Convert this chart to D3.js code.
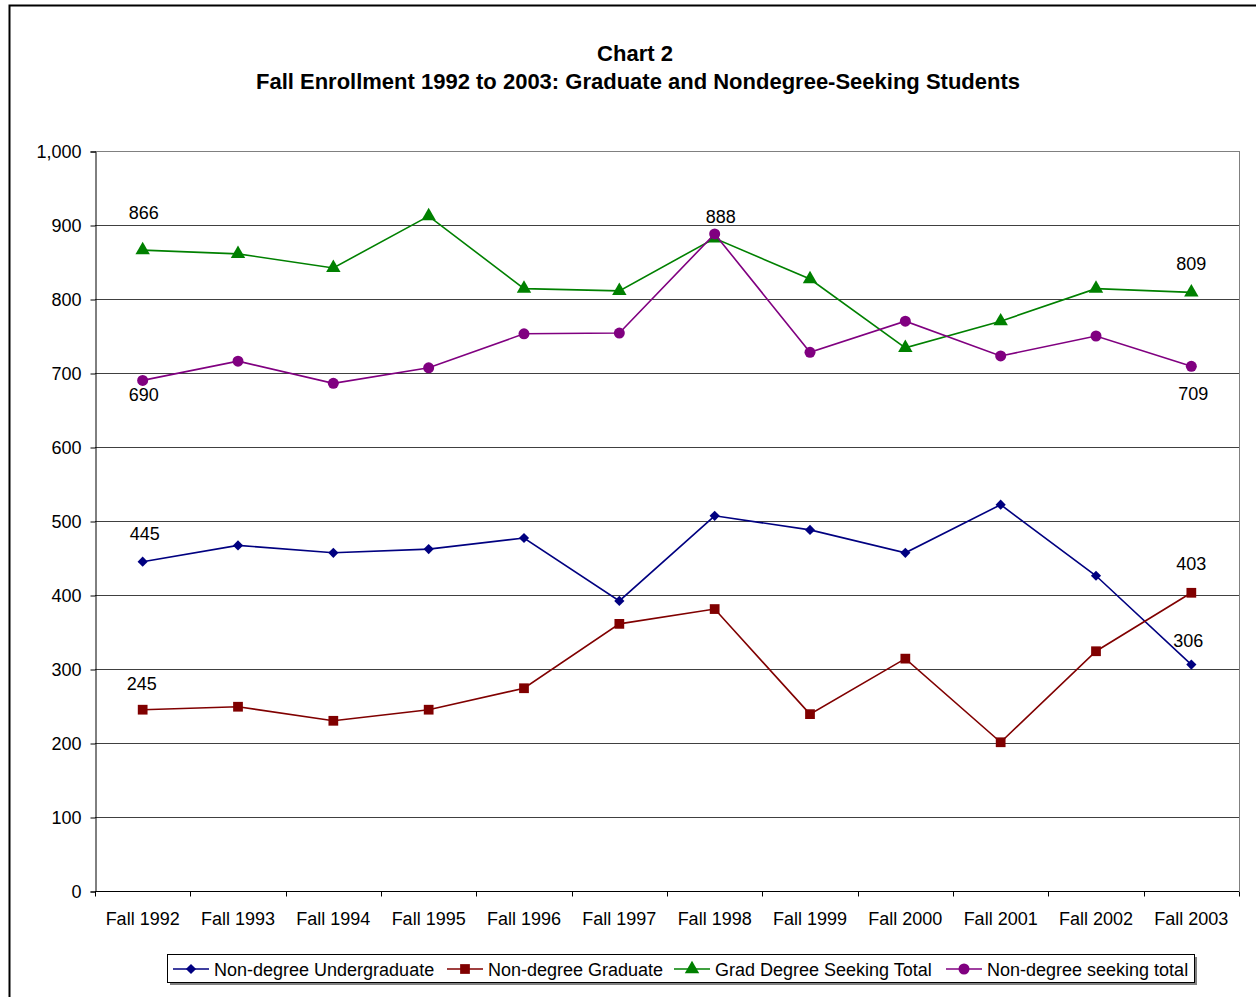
<!DOCTYPE html>
<html>
<head>
<meta charset="utf-8">
<script src="https://cdn.jsdelivr.net/npm/d3@7"></script>
<style>
  body { margin: 0; background: #fff; }
  text { font-family: "Liberation Sans", Arial, sans-serif; fill: #000; }
</style>
</head>
<body>
<script>
// Data
var years = ["Fall 1992", "Fall 1993", "Fall 1994", "Fall 1995", "Fall 1996", "Fall 1997",
             "Fall 1998", "Fall 1999", "Fall 2000", "Fall 2001", "Fall 2002", "Fall 2003"];
var undergrad = [445, 467, 457, 462, 477, 392, 507, 488, 457, 522, 426, 306];
var graduate  = [245, 249, 230, 245, 274, 361, 381, 239, 314, 201, 324, 403];
var gradSeeking = [866, 861, 842, 912, 814, 811, 882, 827, 734, 770, 814, 809];
var nonDegreeTotal = [690, 716, 686, 707, 753, 754, 888, 728, 770, 723, 750, 709];
var yTicks = [0, 100, 200, 300, 400, 500, 600, 700, 800, 900, 1000];

var series = [
  {name: "Non-degree Undergraduate", values: undergrad, color: "#000080", symbol: d3.symbolSquare, size: 52, rot: 45},
  {name: "Non-degree Graduate", values: graduate, color: "#800000", symbol: d3.symbolSquare, size: 95, rot: 0},
  {name: "Grad Degree Seeking Total", values: gradSeeking, color: "#008000", symbol: d3.symbolTriangle, size: 90, rot: 0},
  {name: "Non-degree seeking total", values: nonDegreeTotal, color: "#800080", symbol: d3.symbolCircle, size: 95, rot: 0}
];

// labels shown on first/peak/last points: [series index, point index, dx, dy]
var labels = [
  [2, 0, 1, -37], [3, 0, 1, 15], [3, 6, 6, -17], [2, 11, 0, -28], [3, 11, 2, 28],
  [0, 0, 2, -28], [1, 0, -1, -26], [1, 11, 0, -29], [0, 11, -3, -24]
];

var width = 1256, height = 997;
var plotL = 95, plotR = 1239, plotT = 151, plotB = 891;
var fontSize = 18;

var svg = d3.select("body").append("svg")
  .attr("width", width)
  .attr("height", height);

// outer chart border
svg.append("rect")
  .attr("x", 9.5).attr("y", 5.5)
  .attr("width", 1260).attr("height", 1010)
  .attr("fill", "none").attr("stroke", "#000").attr("stroke-width", 2);

// title
svg.append("text").attr("x", 635).attr("y", 61)
  .attr("text-anchor", "middle").attr("font-size", 22).attr("font-weight", "bold")
  .text("Chart 2");
svg.append("text").attr("x", 638).attr("y", 89)
  .attr("text-anchor", "middle").attr("font-size", 22).attr("font-weight", "bold")
  .text("Fall Enrollment 1992 to 2003: Graduate and Nondegree-Seeking Students");

var x = d3.scaleBand().domain(years).range([plotL, plotR]);
var y = d3.scaleLinear().domain([0, 1000]).range([plotB, plotT]);

// gridlines
svg.append("g").selectAll("line")
  .data(yTicks.filter(function(d){ return d > 0; }))
  .enter().append("line")
  .attr("x1", plotL).attr("x2", plotR)
  .attr("y1", function(d){ return y(d) + 0.5; })
  .attr("y2", function(d){ return y(d) + 0.5; })
  .attr("stroke", function(d){ return d === 1000 ? "#808080" : "#404040"; })
  .attr("stroke-width", 1);

// right plot border
svg.append("line")
  .attr("x1", plotR + 0.5).attr("x2", plotR + 0.5)
  .attr("y1", plotT).attr("y2", plotB)
  .attr("stroke", "#808080");

// y axis
var yAxis = svg.append("g")
  .attr("transform", "translate(" + (plotL + 0.5) + ",0.5)")
  .call(d3.axisLeft(y).tickValues(yTicks).tickSize(5).tickPadding(9).tickFormat(d3.format(",")));
yAxis.selectAll("text").attr("font-size", fontSize).style("font-family", "Liberation Sans, Arial, sans-serif");
yAxis.select(".domain").attr("stroke", "#000");

// x axis (ticks at band edges)
var xAxis = svg.append("g").attr("transform", "translate(0," + (plotB + 0.5) + ")");
xAxis.append("line").attr("x1", plotL).attr("x2", plotR).attr("stroke", "#000");
xAxis.selectAll(".tk").data(years).enter().append("line")
  .attr("x1", function(d){ return Math.round(x(d)) + 0.5; })
  .attr("x2", function(d){ return Math.round(x(d)) + 0.5; })
  .attr("y1", 0).attr("y2", 5).attr("stroke", "#000");
xAxis.append("line").attr("x1", plotR + 0.5).attr("x2", plotR + 0.5).attr("y1", 0).attr("y2", 5).attr("stroke", "#000");
xAxis.selectAll(".lbl").data(years).enter().append("text")
  .attr("x", function(d){ return x(d) + x.bandwidth() / 2; })
  .attr("y", 33)
  .attr("text-anchor", "middle").attr("font-size", fontSize)
  .text(function(d){ return d; });

// lines and markers
var line = d3.line()
  .x(function(d, i){ return x(years[i]) + x.bandwidth() / 2; })
  .y(function(d){ return y(d); });

series.forEach(function(s){
  svg.append("path").datum(s.values)
    .attr("fill", "none").attr("stroke", s.color).attr("stroke-width", 1.6)
    .attr("d", line);
  svg.append("g").selectAll("path").data(s.values).enter().append("path")
    .attr("d", d3.symbol().type(s.symbol).size(s.size))
    .attr("fill", s.color)
    .attr("transform", function(d, i){
      return "translate(" + (x(years[i]) + x.bandwidth() / 2) + "," + y(d) + ") rotate(" + s.rot + ")";
    });
});

// data labels
svg.append("g").selectAll("text").data(labels).enter().append("text")
  .attr("x", function(l){ return x(years[l[1]]) + x.bandwidth() / 2 + l[2]; })
  .attr("y", function(l){ return y(series[l[0]].values[l[1]]) + l[3] + 6; })
  .attr("text-anchor", "middle").attr("font-size", fontSize)
  .text(function(l){ return series[l[0]].values[l[1]]; });

// legend
var lg = svg.append("g");
lg.append("rect").attr("x", 170).attr("y", 957).attr("width", 1027).attr("height", 28).attr("fill", "#808080");
lg.append("rect").attr("x", 167.5).attr("y", 954.5).attr("width", 1027).attr("height", 28)
  .attr("fill", "#fff").attr("stroke", "#000");
var legendX = [173, 447, 674, 946];
series.forEach(function(s, i){
  var g = lg.append("g").attr("transform", "translate(" + legendX[i] + ",969)");
  g.append("line").attr("x1", 0).attr("x2", 36).attr("stroke", s.color).attr("stroke-width", 1.6);
  g.append("path").attr("d", d3.symbol().type(s.symbol).size(s.size)).attr("fill", s.color)
    .attr("transform", "translate(18,0) rotate(" + s.rot + ")");
  g.append("text").attr("x", 41).attr("y", 6.5).attr("font-size", fontSize).text(s.name);
});
</script>
</body>
</html>
